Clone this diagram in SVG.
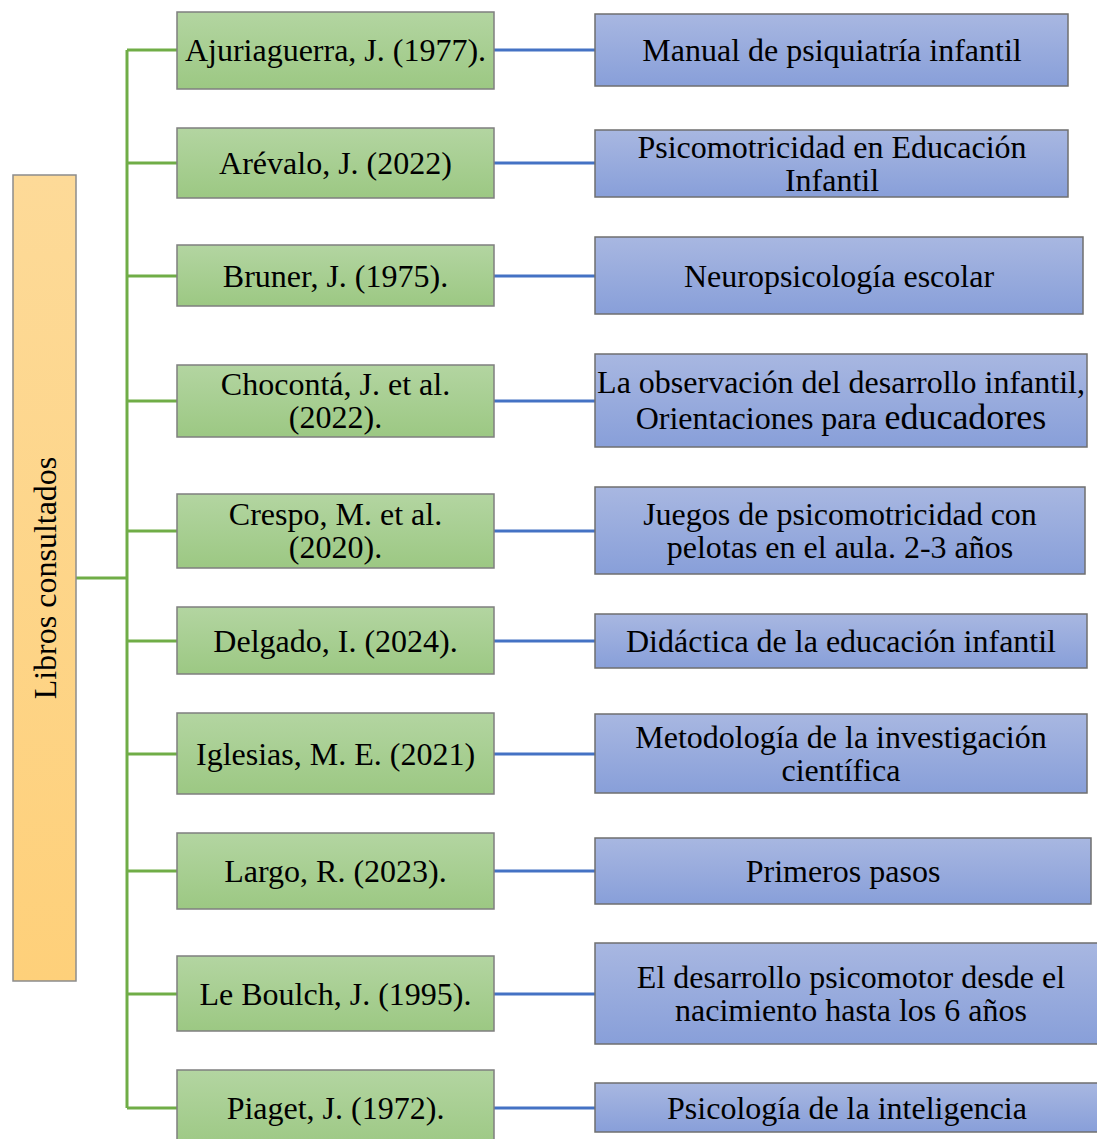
<svg xmlns="http://www.w3.org/2000/svg" width="1097" height="1139" viewBox="0 0 1097 1139">
<defs>
<linearGradient id="gGreen" x1="0" y1="0" x2="0" y2="1"><stop offset="0" stop-color="#b3d5a1"/><stop offset="1" stop-color="#9cc883"/></linearGradient>
<linearGradient id="gBlue" x1="0" y1="0" x2="0" y2="1"><stop offset="0" stop-color="#a8b7e1"/><stop offset="1" stop-color="#889fd9"/></linearGradient>
<linearGradient id="gOrange" x1="0" y1="0" x2="0" y2="1"><stop offset="0" stop-color="#fdda98"/><stop offset="1" stop-color="#fed07a"/></linearGradient>
</defs>
<style>
.g{fill:url(#gGreen);stroke:#7f7f7f;stroke-width:1.5}
.b{fill:url(#gBlue);stroke:#6f6f6f;stroke-width:1.5}
.o{fill:url(#gOrange);stroke:#8c8c8c;stroke-width:1.5}
.t{font-family:"Liberation Serif","Times New Roman",serif;font-size:32px;fill:#000;text-anchor:middle}
.lg{stroke:#70ad47;stroke-width:3;fill:none}
.lb{stroke:#4472c4;stroke-width:3;fill:none}
</style>
<rect width="1097" height="1139" fill="#fff"/>
<g id="connectors">
<path class="lg" d="M76 578H127M127 50V1108M127 50H177M127 163H177M127 276H177M127 401H177M127 531H177M127 641H177M127 754H177M127 871H177M127 994H177M127 1108H177"/>
<path class="lb" d="M494 50H595M494 163H595M494 276H595M494 401H595M494 531H595M494 641H595M494 754H595M494 871H595M494 994H595M494 1108H595"/>
</g>
<g id="root"><rect class="o" x="13" y="175" width="63" height="806"/><text class="t" transform="translate(56 578) rotate(-90)">Libros consultados</text></g>
<g id="a1"><rect class="g" x="177" y="12" width="317" height="77"/><text class="t" x="335.5" y="61">Ajuriaguerra, J. (1977).</text></g>
<g id="a2"><rect class="g" x="177" y="128" width="317" height="70"/><text class="t" x="335.5" y="174">Arévalo, J. (2022)</text></g>
<g id="a3"><rect class="g" x="177" y="245" width="317" height="61"/><text class="t" x="335.5" y="287">Bruner, J. (1975).</text></g>
<g id="a4"><rect class="g" x="177" y="365" width="317" height="72"/><text class="t" x="335.5" y="395">Chocontá, J. et al.</text><text class="t" x="335.5" y="428">(2022).</text></g>
<g id="a5"><rect class="g" x="177" y="494" width="317" height="74"/><text class="t" x="335.5" y="525">Crespo, M. et al.</text><text class="t" x="335.5" y="558">(2020).</text></g>
<g id="a6"><rect class="g" x="177" y="607" width="317" height="67"/><text class="t" x="335.5" y="652">Delgado, I. (2024).</text></g>
<g id="a7"><rect class="g" x="177" y="713" width="317" height="81"/><text class="t" x="335.5" y="765">Iglesias, M. E. (2021)</text></g>
<g id="a8"><rect class="g" x="177" y="833" width="317" height="76"/><text class="t" x="335.5" y="882">Largo, R. (2023).</text></g>
<g id="a9"><rect class="g" x="177" y="956" width="317" height="75"/><text class="t" x="335.5" y="1005">Le Boulch, J. (1995).</text></g>
<g id="a10"><rect class="g" x="177" y="1070" width="317" height="80"/><text class="t" x="335.5" y="1119">Piaget, J. (1972).</text></g>
<g id="b1"><rect class="b" x="595" y="14" width="473" height="72"/><text class="t" x="832" y="61">Manual de psiquiatría infantil</text></g>
<g id="b2"><rect class="b" x="595" y="130" width="473" height="67"/><text class="t" x="832" y="158">Psicomotricidad en Educación</text><text class="t" x="832" y="191">Infantil</text></g>
<g id="b3"><rect class="b" x="595" y="237" width="488" height="77"/><text class="t" x="839" y="287">Neuropsicología escolar</text></g>
<g id="b4"><rect class="b" x="595" y="354" width="492" height="93"/><text class="t" x="841" y="393">La observación del desarrollo infantil,</text><text class="t" x="841" y="429">Orientaciones para <tspan font-size="36">educadores</tspan></text></g>
<g id="b5"><rect class="b" x="595" y="487" width="490" height="87"/><text class="t" x="840" y="525">Juegos de psicomotricidad con</text><text class="t" x="840" y="558">pelotas en el aula. 2-3 años</text></g>
<g id="b6"><rect class="b" x="595" y="614" width="492" height="54"/><text class="t" x="841" y="652">Didáctica de la educación infantil</text></g>
<g id="b7"><rect class="b" x="595" y="714" width="492" height="79"/><text class="t" x="841" y="748">Metodología de la investigación</text><text class="t" x="841" y="781">científica</text></g>
<g id="b8"><rect class="b" x="595" y="838" width="496" height="66"/><text class="t" x="843" y="882">Primeros pasos</text></g>
<g id="b9"><rect class="b" x="595" y="943" width="512" height="101"/><text class="t" x="851" y="988">El desarrollo psicomotor desde el</text><text class="t" x="851" y="1021">nacimiento hasta los 6 años</text></g>
<g id="b10"><rect class="b" x="595" y="1083" width="512" height="49"/><text class="t" x="847" y="1119">Psicología de la inteligencia</text></g>
</svg>
